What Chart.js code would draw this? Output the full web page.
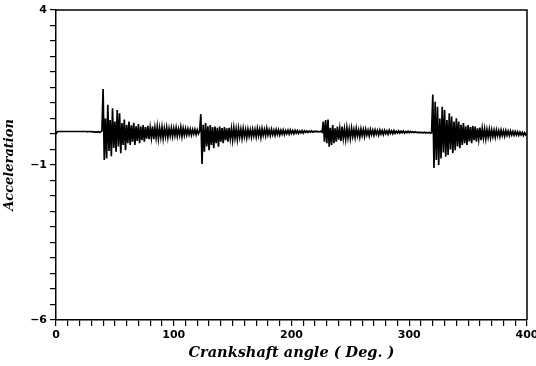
<!DOCTYPE html>
<html>
<head>
<meta charset="utf-8">
<script src="https://cdn.jsdelivr.net/npm/chart.js@4.4.1/dist/chart.umd.min.js"></script>
<style>
  html, body { margin: 0; padding: 0; background: #fff; }
  canvas { display: block; }
</style>
</head>
<body>
<canvas id="c" width="536" height="366"></canvas>
<script>
// Sampling of the trace: one sample per degree of crankshaft angle
const startAngle = 0;
const stepDeg = 1;

// Acceleration values (0..400 deg)
const acceleration = [
  0.00, 0.07, 0.08, 0.08, 0.08, 0.08, 0.08, 0.08, 0.08, 0.08,
  0.08, 0.08, 0.08, 0.08, 0.08, 0.08, 0.08, 0.08, 0.08, 0.08,
  0.08, 0.08, 0.08, 0.08, 0.08, 0.08, 0.08, 0.07, 0.08, 0.08,
  0.07, 0.08, 0.07, 0.06, 0.07, 0.06, 0.08, 0.05, 0.07, 0.10,
  1.45, -0.84, 0.50, -0.79, 0.94, -0.55, 0.45, -0.72, 0.83, -0.45,
  0.40, -0.57, 0.77, -0.40, 0.67, -0.62, 0.35, -0.35, 0.47, -0.52,
  0.30, -0.30, 0.40, -0.35, 0.28, -0.25, 0.36, -0.35, 0.25, -0.22,
  0.32, -0.30, 0.24, -0.20, 0.29, -0.25, 0.22, -0.15, 0.26, -0.17,
  0.20, -0.12, 0.25, -0.17, 0.20, -0.12, 0.24, -0.15, 0.19, -0.10,
  0.22, -0.14, 0.18, -0.08, 0.21, -0.11, 0.17, -0.06, 0.19, -0.08,
  0.18, -0.05, 0.20, -0.07, 0.16, -0.04, 0.22, -0.08, 0.18, -0.04,
  0.17, -0.03, 0.16, -0.02, 0.15, -0.03, 0.14, 0.00, 0.15, -0.02,
  0.13, 0.01, 0.10, 0.64, -0.97, 0.30, -0.57, 0.35, -0.40, 0.25,
  -0.52, 0.29, -0.35, 0.22, -0.46, 0.24, -0.30, 0.20, -0.41, 0.24,
  -0.25, 0.19, -0.30, 0.22, -0.20, 0.18, -0.25, 0.20, -0.15, 0.17,
  -0.19, 0.20, -0.13, 0.16, -0.17, 0.18, -0.10, 0.15, -0.14, 0.17,
  -0.09, 0.14, -0.12, 0.15, -0.07, 0.13, -0.10, 0.15, -0.06, 0.14,
  -0.09, 0.18, -0.05, 0.15, -0.11, 0.17, -0.04, 0.14, -0.06, 0.18,
  -0.03, 0.13, -0.05, 0.15, -0.02, 0.12, -0.04, 0.14, -0.01, 0.13,
  -0.03, 0.12, 0.00, 0.13, -0.02, 0.11, 0.01, 0.12, 0.00, 0.13,
  0.02, 0.11, 0.01, 0.12, 0.03, 0.11, 0.02, 0.10, 0.04, 0.11,
  0.03, 0.10, 0.05, 0.10, 0.05, 0.09, 0.06, 0.10, 0.06, 0.09,
  0.07, 0.09, 0.07, 0.08, 0.07, 0.09, 0.06, 0.40, -0.25, 0.45,
  -0.30, 0.47, -0.41, 0.20, -0.35, 0.29, -0.30, 0.18, -0.25, 0.24,
  -0.18, 0.17, -0.22, 0.24, -0.14, 0.16, -0.17, 0.20, -0.12, 0.15,
  -0.14, 0.19, -0.08, 0.14, -0.11, 0.18, -0.06, 0.13, -0.10, 0.16,
  -0.05, 0.14, -0.08, 0.15, -0.03, 0.12, -0.06, 0.14, -0.02, 0.12,
  -0.04, 0.13, -0.01, 0.11, -0.03, 0.13, 0.00, 0.11, -0.02, 0.12,
  0.01, 0.10, -0.01, 0.12, 0.02, 0.10, 0.01, 0.11, 0.02, 0.09,
  0.03, 0.10, 0.03, 0.09, 0.04, 0.10, 0.03, 0.08, 0.04, 0.09,
  0.04, 0.08, 0.05, 0.07, 0.04, 0.07, 0.05, 0.06, 0.04, 0.06,
  0.04, 0.05, 0.04, 0.06, 0.03, 0.05, 0.04, 0.05, 0.03, 0.04,
  1.27, -1.10, 1.04, -0.84, 0.88, -1.00, 0.50, -0.79, 0.88, -0.60,
  0.77, -0.73, 0.45, -0.68, 0.67, -0.50, 0.56, -0.62, 0.40, -0.52,
  0.51, -0.40, 0.40, -0.46, 0.30, -0.35, 0.35, -0.30, 0.25, -0.35,
  0.29, -0.24, 0.22, -0.30, 0.26, -0.20, 0.24, -0.25, 0.18, -0.17,
  0.21, -0.20, 0.18, -0.13, 0.16, -0.15, 0.14, -0.10, 0.15, -0.12,
  0.13, -0.08, 0.12, -0.10, 0.13, -0.06, 0.11, -0.08, 0.12, -0.05,
  0.10, -0.07, 0.11, -0.04, 0.09, -0.05, 0.10, -0.03, 0.08, -0.04,
  0.08, -0.03, 0.07, -0.04, 0.06, -0.03, 0.05, -0.05, 0.04, -0.03,
  0.02
];

// Axis tick labels
const xTickLabels = [0, 100, 200, 300, 400];
const yTickLabels = [4, -1, -6];

const xTitle = 'Crankshaft angle ( Deg. )';
const yTitle = 'Acceleration';

const points = acceleration.map((v, i) => ({ x: startAngle + i * stepDeg, y: v }));

const framePlugin = {
  id: 'frame',
  afterDraw(chart) {
    const { ctx, chartArea: a } = chart;
    ctx.save();
    ctx.strokeStyle = '#000';
    ctx.lineWidth = 1.5;
    ctx.beginPath();
    ctx.moveTo(a.left, a.top);
    ctx.lineTo(a.right, a.top);
    ctx.lineTo(a.right, a.bottom);
    ctx.stroke();
    ctx.restore();
  }
};

const tickFont = { family: 'DejaVu Sans', size: 11, weight: 'bold' };
const yTitleFont = { family: 'DejaVu Serif', size: 13, weight: 'bold', style: 'italic' };
const xTitleFont = { family: 'DejaVu Serif', size: 14.5, weight: 'bold', style: 'italic' };

new Chart(document.getElementById('c'), {
  type: 'line',
  data: {
    datasets: [{
      data: points,
      borderColor: '#000',
      borderWidth: 1.7,
      pointRadius: 0,
      tension: 0,
      fill: false
    }]
  },
  options: {
    responsive: false,
    animation: false,
    devicePixelRatio: 1,
    layout: { padding: { top: 10, right: 9, left: 0, bottom: 0 } },
    plugins: { legend: { display: false }, tooltip: { enabled: false } },
    scales: {
      x: {
        type: 'linear',
        min: 0,
        max: 400,
        afterFit(s) { s.height = 46; s.paddingRight = 0; s.paddingLeft = 0; },
        ticks: {
          stepSize: 10,
          autoSkip: false,
          maxRotation: 0,
          padding: 3,
          color: '#000',
          font: tickFont,
          callback: v => xTickLabels.includes(v) ? String(v) : ''
        },
        grid: { display: true, drawOnChartArea: false, drawTicks: true, tickLength: 6, color: '#000', lineWidth: 1.2 },
        border: { display: true, color: '#000', width: 1.5 },
        title: { display: true, text: xTitle, color: '#000', font: xTitleFont, padding: { top: 2, bottom: 4 } }
      },
      y: {
        type: 'linear',
        min: -6,
        max: 4,
        afterFit(s) { s.width = 56; s.paddingTop = 0; s.paddingBottom = 0; },
        ticks: {
          stepSize: 0.5,
          autoSkip: false,
          padding: 3,
          color: '#000',
          font: tickFont,
          callback: v => yTickLabels.includes(v) ? String(v).replace('-', '\u2212') : ''
        },
        grid: { display: true, drawOnChartArea: false, drawTicks: true, tickLength: 6, color: '#000', lineWidth: 1.2 },
        border: { display: true, color: '#000', width: 1.5 },
        title: { display: true, text: yTitle, color: '#000', font: yTitleFont, padding: { top: 2, bottom: 6 } }
      }
    }
  },
  plugins: [framePlugin]
});
</script>
</body>
</html>
